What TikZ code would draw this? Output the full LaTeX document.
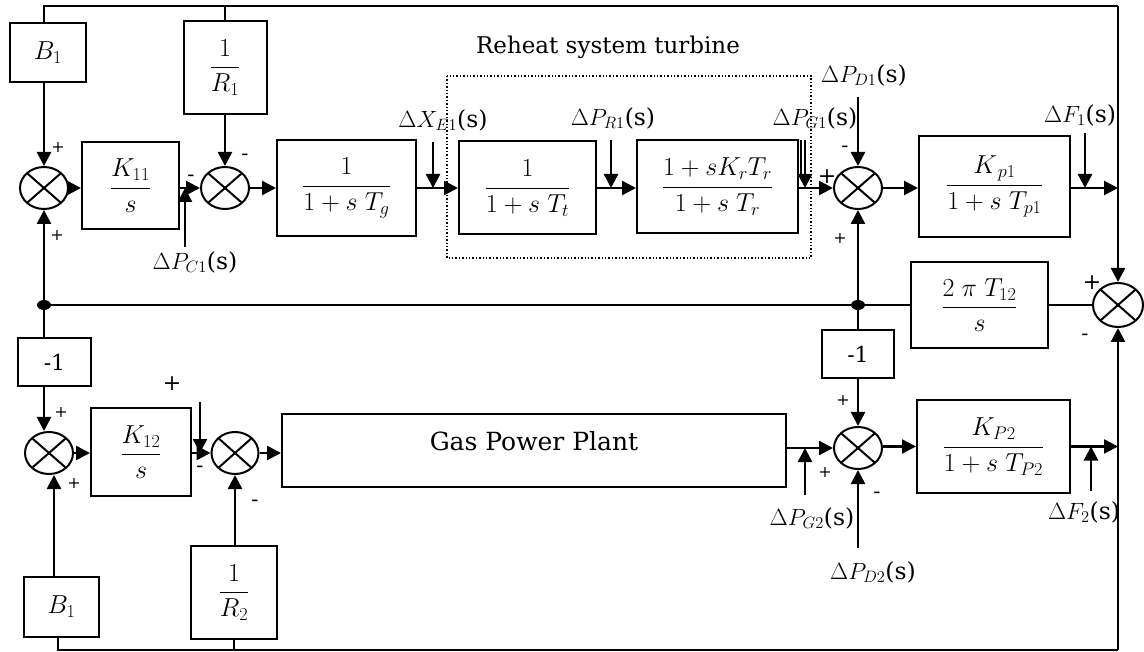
\RequirePackage{fix-cm}
\documentclass[tikz,border=0pt]{standalone}
\usepackage[no-math]{fontspec}
\setmainfont{DejaVu Serif}
\usetikzlibrary{arrows.meta,shapes.geometric,calc}
\begin{document}
\begin{tikzpicture}[x=1pt,y=-1pt,
  every node/.style={font=\fontsize{26}{30}\selectfont},
  blk/.style={draw, line width=2pt, rectangle, inner sep=0pt, align=center},
  sumn/.style={draw, ellipse, line width=2pt, minimum width=48pt, minimum height=42pt, inner sep=0pt,
    path picture={\draw[line width=2pt] (path picture bounding box.north west)--(path picture bounding box.south east)
      (path picture bounding box.north east)--(path picture bounding box.south west);}},
  arr/.style={line width=2.5pt, -{Triangle[length=14pt,width=14pt]}},
  ln/.style={line width=2.3pt},
  lbl/.style={font=\fontsize{23.5}{27}\selectfont, inner sep=0pt},
  sgn/.style={font=\fontsize{16}{20}\selectfont, inner sep=0pt},
  msgn/.style={font=\fontsize{21}{24}\selectfont, inner sep=0pt},
  bsgn/.style={font=\fontsize{22}{26}\selectfont, inner sep=0pt},
  jdot/.style={ellipse, fill, inner sep=0pt, minimum width=14pt, minimum height=10pt}
]
\useasboundingbox (0,0) rectangle (1144,652);

% ---------- upper area blocks ----------
\node[blk, minimum width=76pt, minimum height=59pt] (B1top) at (48,52.5) {$B_1$};
\node[blk, minimum width=83pt, minimum height=93pt] (R1) at (225,67.5) {$\displaystyle\frac{1}{R_1}$};
\node[sumn] (S1) at (44,188) {};
\node[blk, minimum width=97pt, minimum height=87pt] (K11) at (130.5,185.5) {$\displaystyle\frac{K_{11}}{s}$};
\node[sumn] (S2) at (225,188) {};
\node[blk, minimum width=139pt, minimum height=96pt] (Tg) at (346.5,188) {$\displaystyle\frac{1}{1+s\;T_g}$};
\node[blk, minimum width=137pt, minimum height=93pt] (Tt) at (527.5,188) {$\displaystyle\frac{1}{1+s\;T_t}$};
\node[blk, minimum width=161pt, minimum height=93pt] (Rh) at (717.5,186.5) {$\displaystyle\frac{1+sK_rT_r}{1+s\;T_r}$};
\node[sumn] (S3) at (858,188) {};
\node[blk, minimum width=151pt, minimum height=101pt] (Kp1) at (994.5,186.5) {$\displaystyle\frac{K_{\,p1}}{1+s\;T_{p1}}$};
\node[blk, minimum width=137pt, minimum height=86pt] (T12) at (979.5,305) {$\displaystyle\frac{2\;\pi\;T_{12}}{s}$};
\node[sumn, minimum width=50pt, minimum height=44pt] (S4) at (1118,305) {};

\draw[dotted, line width=1.4pt] (447,76) rectangle (811,258);
\node[font=\fontsize{23}{28}\selectfont, inner sep=0pt] (rht) at (608,47) {Reheat system turbine};

\node[jdot] (J1) at (44,305) {};
\node[jdot] (J2) at (858,305) {};

% ---------- lower area blocks ----------
\node[blk, minimum width=73pt, minimum height=48pt, font=\fontsize{22}{26}\selectfont] (M1a) at (54.5,362) {-1};
\node[sumn] (S5) at (49,453) {};
\node[blk, minimum width=100pt, minimum height=88pt] (K12) at (141,452) {$\displaystyle\frac{K_{12}}{s}$};
\node[sumn, minimum width=47pt] (S6) at (235,453) {};
\node[blk, minimum width=504pt, minimum height=73pt,
  label={[font=\fontsize{25}{30}\selectfont, yshift=9.5pt]center:Gas Power Plant}] (Gas) at (534,450.5) {};
\node[blk, minimum width=72pt, minimum height=48pt, font=\fontsize{22}{26}\selectfont] (M1b) at (858,354) {-1};
\node[sumn] (S7) at (858,448) {};
\node[blk, minimum width=153pt, minimum height=93pt] (KP2) at (993.5,446.5) {$\displaystyle\frac{K_{P2}}{1+s\;T_{P2}}$};
\node[blk, minimum width=75pt, minimum height=60pt] (B1bot) at (61.5,607) {$B_1$};
\node[blk, minimum width=86pt, minimum height=93pt] (R2) at (234,592.5) {$\displaystyle\frac{1}{R_2}$};

% ---------- coordinates ----------
\coordinate (tl) at (44,6);
\coordinate (tr) at (1118,6);
\coordinate (bl) at (58,650);
\coordinate (br) at (1118,650);
\coordinate (xe) at (433,142);
\coordinate (pr1) at (611,140);
\coordinate (pg1) at (805,140);
\coordinate (pg1b) at (801,140);
\coordinate (pd1) at (858,97);
\coordinate (f1) at (1085,133);
\coordinate (pc1) at (185,247);
\coordinate (c6) at (200,402);
\coordinate (pg2) at (805,495);
\coordinate (pd2) at (858,548);
\coordinate (f2) at (1091,491);

% ---------- upper connectors ----------
\draw[ln] (B1top.north -| tl) -- (tl) -- (tr);
\draw[ln] (R1.north) -- (R1.north |- tl);
\draw[arr] (tr) -- (S4.north);
\draw[arr] (B1top.south -| S1) -- (S1.north);
\draw[arr] (J1) -- (S1.south);
\draw[arr] (S1.east) -- (S1.east -| K11.west);
\draw[arr] (S1.east -| K11.east) -- (S2.west);
\draw[arr] (pc1) -- (pc1 |- S2);
\draw[arr] (R1.south) -- (S2.north);
\draw[arr] (S2.east) -- (S2.east -| Tg.west);
\draw[arr] (Tg.east |- S2) -- (Tt.west |- S2);
\draw[arr] (xe) -- (xe |- S2);
\draw[arr] (Tt.east |- S2) -- (Rh.west |- S2);
\draw[arr] (pr1) -- (pr1 |- S2);
\draw[arr] (Rh.east |- S3) -- (S3.west);
\draw[arr] (pg1) -- (pg1 |- S3);
\draw[line width=1.6pt] (pg1b) -- ($(pg1b |- S3)+(0,-10)$);
\draw[arr] (pd1) -- (S3.north);
\draw[arr] (J2) -- (S3.south);
\draw[arr] (S3.east) -- (S3.east -| Kp1.west);
\draw[arr] (Kp1.east |- S3) -- (S3 -| tr);
\draw[arr] (f1) -- (f1 |- S3);
\draw[ln] (J1) -- (T12.west);
\draw[ln] (T12.east) -- (S4.west);

% ---------- lower connectors ----------
\draw[ln] (J1) -- (J1 |- M1a.north);
\draw[arr] (J1 |- M1a.south) -- (J1 |- S5.north);
\draw[arr] ([xshift=5pt]S5.south |- B1bot.north) -- ([xshift=5pt]S5.south);
\draw[arr] (S5.east) -- (S5.east -| K12.west);
\draw[arr] (S5.east -| K12.east) -- (S6.west);
\draw[arr] (c6) -- (c6 |- S6);
\draw[arr] (R2.north -| S6) -- (S6.south);
\draw[arr] (S6.east) -- (S6.east -| Gas.west);
\draw[arr] (Gas.east |- S7) -- (S7.west);
\draw[arr] (pg2) -- (pg2 |- S7);
\draw[ln] (J2) -- (M1b.north);
\draw[arr] (M1b.south) -- (S7.north);
\draw[arr] (pd2) -- (S7.south);
\draw[arr] (S7.east |- KP2.east) -- (KP2.west);
\draw[arr] (KP2.east) -- (KP2.east -| br);
\draw[arr] (f2) -- (f2 |- KP2.east);
\draw[ln] (B1bot.south -| bl) -- (bl) -- (br);
\draw[ln] (R2.south) -- (R2.south |- bl);
\draw[arr] (br) -- (S4.south);

% ---------- signal labels ----------
\node[lbl] (Lpc1) at (195,262) {$\Delta P_{C1}$(s)};
\node[lbl] (Lxe) at (443,120) {$\Delta X_{E1}$(s)};
\node[lbl] (Lpr1) at (613,118) {$\Delta P_{R1}$(s)};
\node[lbl] (Lpg1) at (815,118) {$\Delta P_{G1}$(s)};
\node[lbl] (Lpd1) at (864,75) {$\Delta P_{D1}$(s)};
\node[lbl] (Lf1) at (1080,115) {$\Delta F_1$(s)};
\node[lbl] (Lpg2) at (812,518) {$\Delta P_{G2}$(s)};
\node[lbl] (Lpd2) at (873,572) {$\Delta P_{D2}$(s)};
\node[lbl] (Lf2) at (1084,512) {$\Delta F_2$(s)};

% ---------- signs ----------
\node[sgn] at (58,147) {+};
\node[sgn] at (57,235) {+};
\node[msgn] at (245,157) {-};
\node[msgn] at (191,178) {-};
\node[msgn] at (845,149) {-};
\node[bsgn] at (827,177) {+};
\node[sgn] at (840,238) {+};
\node[bsgn] at (1092,283) {+};
\node[msgn] at (1085,337) {-};
\node[sgn] at (61,412) {+};
\node[sgn] at (74,483) {+};
\node[bsgn] at (172,384) {+};
\node[msgn] at (200,469) {-};
\node[msgn] at (255,503) {-};
\node[sgn] at (843,400) {+};
\node[sgn] at (825,472) {+};
\node[msgn] at (877,495) {-};
\end{tikzpicture}
\end{document}
